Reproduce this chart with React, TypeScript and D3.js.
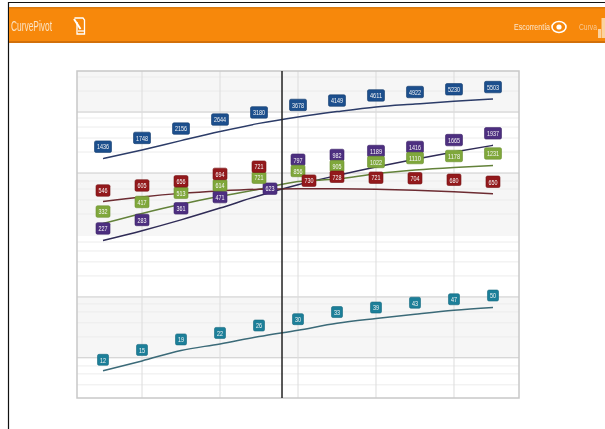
import React from "react";
import * as d3 from "d3";

const W = 605, H = 429;
const steps = d3.range(0, 11);
const blue = [1436, 1748, 2156, 2644, 3180, 3678, 4149, 4611, 4922, 5230, 5503];
const red = [546, 605, 656, 694, 721, 730, 728, 721, 704, 680, 650];
const green = [332, 417, 513, 614, 721, 856, 905, 1022, 1110, 1178, 1231];
const purple = [227, 283, 361, 471, 623, 797, 982, 1189, 1416, 1665, 1937];
const teal = [12, 15, 19, 22, 26, 30, 35, 39, 43, 47, 50];
const tealText = ["12", "15", "19", "22", "26", "30", "33", "39", "43", "47", "50"];

const blueDy = [-12, -12, -12, -12, -11, -12, -11, -11.5, -12, -12, -12];
const redDy = [-11, -11.5, -12, -17, -22.5, -8, -12, -11.5, -12, -12, -12];
const redDx = [0, 0, 0, 0, 0, 11, 0, 0, 0, 0, 0];
const greenDy = [-12, -11.5, -11.5, -11, -11.5, -10.6, -13, -11.7, -12, -11.4, -12];
const purpleDy = [-12, -10.7, -11.5, -11, -7, -25, -20.5, -16, -12.3, -12, -12];
const purpleDx = [0, 0, 0, 0, 11, 0, 0, 0, 0, 0, 0];
const tealDy = [-11, -11, -11, -11, -11, -11, -11.3, -11, -11.5, -11, -12];

const gridLight = [9040, 6590, 3587, 2930, 2286, 1667, 867, 724, 565, 412, 219, 179, 140, 102, 54.3, 45.3, 35.4, 25.8, 13.4, 11.2, 8.75];
const gridDark = [4105, 1038, 63.5, 16.1];
const bands: [number, number][] = [[10360, 4105], [1038, 251], [63.5, 16.1]];
const xGrid = [1, 3, 5, 7, 9];
const pivot = 4.59;

const x = d3.scaleLinear().domain([-0.667, 10.667]).range([77, 519]);
const y = d3.scaleLog().domain([6.5, 10360]).range([398, 71]);
const line = d3.line<number>().x((_, i) => x(steps[i])).y((d) => y(d)).curve(d3.curveMonotoneX);

const series = [
  { key: "blue", values: blue, line: "#2c3c68", fill: "#1c4f8d", edge: "#123a6c", dy: blueDy },
  { key: "purple", values: purple, line: "#2f2b56", fill: "#4d2f80", edge: "#3a2266", dy: purpleDy, dx: purpleDx },
  { key: "green", values: green, line: "#63823a", fill: "#7fa73b", edge: "#6c9030", dy: greenDy },
  { key: "red", values: red, line: "#6d2c32", fill: "#93191c", edge: "#741013", dy: redDy, dx: redDx },
  { key: "teal", values: teal, line: "#3b6a78", fill: "#1c7f99", edge: "#14687e", dy: tealDy, text: tealText },
];

const frameL = x.range()[0], frameR = x.range()[1];
const frameT = y.range()[1], frameB = y.range()[0];

export default function App() {
  return (
    <svg width={W} height={H} viewBox={`0 0 ${W} ${H}`}
      style={{ position: "fixed", left: 0, top: 0, display: "block", background: "#fff", filter: "blur(0.4px)" }}>
      {/* outer frame */}
      <line x1={8} x2={W} y1={2.5} y2={2.5} stroke="#111" strokeWidth={1.2} />
      <line x1={8.5} x2={8.5} y1={2} y2={H} stroke="#111" strokeWidth={1.2} />

      {/* header */}
      <rect x={9} y={7} width={W - 9} height={36} fill="#f7880b" />
      <rect x={9} y={7} width={W - 9} height={1.5} fill="#d9790f" />
      <rect x={9} y={41} width={W - 9} height={2} fill="#d2700a" />
      <text x={11} y={31} fontFamily="'Liberation Sans', sans-serif" fontSize={14} fill="#fbe3c4"
        textLength={41} lengthAdjust="spacingAndGlyphs">CurvePivot</text>
      <g fill="none" stroke="#fff" strokeWidth={1.3}>
        <path d="M74.5 18 L83 18 L84.5 20 L84.5 34 L77 34 L77 22" />
        <path d="M74 19 L80.5 29" strokeWidth={2} />
        <path d="M78 31 L84 31" />
      </g>
      <text x={514} y={30} fontFamily="'Liberation Sans', sans-serif" fontSize={9.5} fill="#fbe7cf"
        textLength={36} lengthAdjust="spacingAndGlyphs">Escorrentía</text>
      <ellipse cx={559} cy={27} rx={7} ry={5.5} fill="none" stroke="#fff" strokeWidth={1.6} />
      <circle cx={559} cy={27} r={2.6} fill="#fff" />
      <text x={579} y={30} fontFamily="'Liberation Sans', sans-serif" fontSize={9.5} fill="#f9c994"
        textLength={18} lengthAdjust="spacingAndGlyphs">Curva</text>
      <rect x={598} y={29} width={3} height={9} fill="#fbd29f" />
      <rect x={601.5} y={18} width={3.5} height={20} fill="#fbd29f" />

      {/* plot */}
      {bands.map(([a, b]) => (
        <rect key={a} x={frameL} width={frameR - frameL} y={y(a)} height={y(b) - y(a)} fill="#f6f6f6" />
      ))}
      {gridLight.map((v) => (
        <line key={v} x1={frameL} x2={frameR} y1={y(v)} y2={y(v)} stroke="#ececec" strokeWidth={1} />
      ))}
      {gridDark.map((v) => (
        <line key={v} x1={frameL} x2={frameR} y1={y(v)} y2={y(v)} stroke="#cbcbcb" strokeWidth={1} />
      ))}
      {xGrid.map((v) => (
        <line key={v} x1={x(v)} x2={x(v)} y1={frameT} y2={frameB} stroke="#dcdcdc" strokeWidth={1} />
      ))}
      <rect x={frameL} y={frameT} width={frameR - frameL} height={frameB - frameT} fill="none" stroke="#c8c8c8" strokeWidth={1.5} />

      {series.map((s) => (
        <path key={s.key} d={line(s.values) ?? ""} fill="none" stroke={s.line} strokeWidth={1.5} />
      ))}
      <line x1={x(pivot)} x2={x(pivot)} y1={frameT} y2={frameB} stroke="#222" strokeWidth={1.5} />

      {series.map((s) => (
        <g key={s.key}>
          {s.values.map((v, i) => {
            const label = s.text ? s.text[i] : String(v);
            const w = label.length >= 4 ? 17 : label.length === 3 ? 14 : 11;
            const h = label.length === 2 ? 11 : 11.5;
            const cx = x(steps[i]) + (s.dx ? s.dx[i] : 0);
            const cy = y(v) + s.dy[i];
            return (
              <g key={i}>
                <rect x={cx - w / 2} y={cy - h / 2} width={w} height={h} rx={1.5} fill={s.fill} stroke={s.edge} strokeWidth={0.6} />
                <text x={cx} y={cy + 2.8} textAnchor="middle" fontFamily="'Liberation Sans', sans-serif"
                  fontSize={8} fill="#f6f6f6" textLength={w - 5} lengthAdjust="spacingAndGlyphs">{label}</text>
              </g>
            );
          })}
        </g>
      ))}
    </svg>
  );
}
